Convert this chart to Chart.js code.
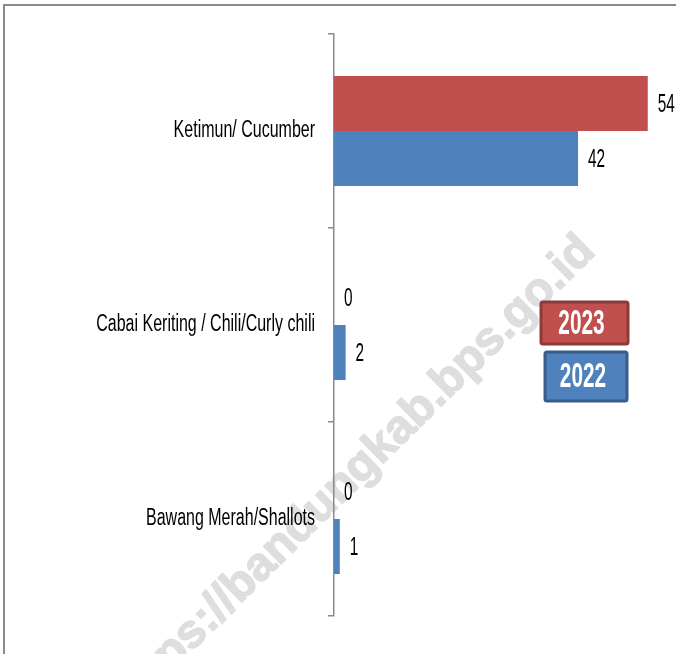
<!DOCTYPE html>
<html>
<head>
<meta charset="utf-8">
<script src="https://cdn.jsdelivr.net/npm/chart.js@4/dist/chart.umd.min.js"></script>
<style>
  html, body { margin: 0; padding: 0; background: #fff; }
  canvas { display: block; }
</style>
</head>
<body>
<canvas id="chart" width="676" height="654"></canvas>
<script>
const categories = ['Ketimun/ Cucumber', 'Cabai Keriting / Chili/Curly chili', 'Bawang Merah/Shallots']
const seriesLabels = ['2023', '2022']
const values2023 = [54, 0, 0]
const values2022 = [42, 2, 1]

const FONT = '"Liberation Sans", Arial, sans-serif'
const red = '#C0504D'
const blue = '#4F81BD'

// the picture uses a narrow, tall office font: squeeze a normal one
function squeezed (ctx, text, x, y, sx, sy) {
  ctx.save()
  ctx.translate(x, y)
  ctx.scale(sx, sy)
  ctx.fillText(text, 0, 0)
  ctx.restore()
}

const backdrop = {
  id: 'backdrop',
  beforeDraw (chart) {
    const ctx = chart.ctx
    ctx.save()
    ctx.fillStyle = '#fff'
    ctx.fillRect(0, 0, chart.width, chart.height)
    // watermark
    ctx.translate(588, 244)
    ctx.rotate(-44.5 * Math.PI / 180)
    ctx.font = 'bold 47px ' + FONT
    ctx.fillStyle = '#dedede'
    ctx.strokeStyle = '#dedede'
    ctx.lineWidth = 1.5
    ctx.lineJoin = 'round'
    ctx.textAlign = 'right'
    ctx.textBaseline = 'middle'
    ctx.fillText('https://bandungkab.bps.go.id', 0, 0)
    ctx.strokeText('https://bandungkab.bps.go.id', 0, 0)
    ctx.restore()
  },
  afterDraw (chart) {
    const ctx = chart.ctx
    ctx.save()
    // frame
    ctx.strokeStyle = '#8a8a8a'
    ctx.lineWidth = 2
    ctx.beginPath()
    ctx.moveTo(4, chart.height)
    ctx.lineTo(4, 5)
    ctx.lineTo(chart.width, 5)
    ctx.stroke()

    // category labels
    const yScale = chart.scales.y
    ctx.fillStyle = '#000'
    ctx.font = '20px ' + FONT
    ctx.textAlign = 'right'
    ctx.textBaseline = 'middle'
    chart.data.labels.forEach((label, i) => {
      squeezed(ctx, label, 315, yScale.getPixelForTick(i), 0.8, 1.15)
    })

    // legend boxes
    const boxes = [
      { x: 541, y: 302, w: 87, h: 42, fill: red, edge: '#8C3A38' },
      { x: 545, y: 352, w: 82, h: 49, fill: blue, edge: '#385D8A' },
    ]
    boxes.forEach((b, i) => {
      ctx.fillStyle = b.fill
      ctx.strokeStyle = b.edge
      ctx.lineWidth = 3
      ctx.beginPath()
      ctx.roundRect(b.x, b.y, b.w, b.h, 2)
      ctx.fill()
      ctx.stroke()
      ctx.fillStyle = '#fff'
      ctx.font = 'bold 26px ' + FONT
      ctx.textAlign = 'center'
      ctx.textBaseline = 'middle'
      squeezed(ctx, chart.data.datasets[i].label, b.x + b.w / 2 - 3, b.y + b.h / 2 + 1, 0.8, 1.35)
    })
    ctx.restore()
  },
}

const valueLabels = {
  id: 'valueLabels',
  afterDatasetsDraw (chart) {
    const ctx = chart.ctx
    ctx.save()
    ctx.fillStyle = '#000'
    ctx.font = '20px ' + FONT
    ctx.textAlign = 'left'
    ctx.textBaseline = 'middle'
    chart.data.datasets.forEach((ds, i) => {
      chart.getDatasetMeta(i).data.forEach((bar, j) => {
        squeezed(ctx, String(ds.data[j]), bar.x + 10, bar.y + 1, 0.77, 1.3)
      })
    })
    ctx.restore()
  },
}

new Chart(document.getElementById('chart').getContext('2d'), {
  type: 'bar',
  data: {
    labels: categories,
    datasets: [
      { label: seriesLabels[0], data: values2023, backgroundColor: red },
      { label: seriesLabels[1], data: values2022, backgroundColor: blue },
    ],
  },
  options: {
    indexAxis: 'y',
    responsive: false,
    animation: false,
    categoryPercentage: 0.567,
    barPercentage: 1,
    layout: { padding: { top: 34, bottom: 38, left: 0, right: 5 } },
    plugins: {
      legend: { display: false },
      tooltip: { enabled: false },
    },
    scales: {
      x: { display: false, min: 0, max: 58 },
      y: {
        grid: { offset: true, drawOnChartArea: false, tickLength: 6, color: '#8a8a8a', lineWidth: 1.5 },
        border: { color: '#8a8a8a', width: 1.5 },
        ticks: { display: false },
        afterFit (scale) { scale.width = 334 },
      },
    },
  },
  plugins: [backdrop, valueLabels],
})
</script>
</body>
</html>
